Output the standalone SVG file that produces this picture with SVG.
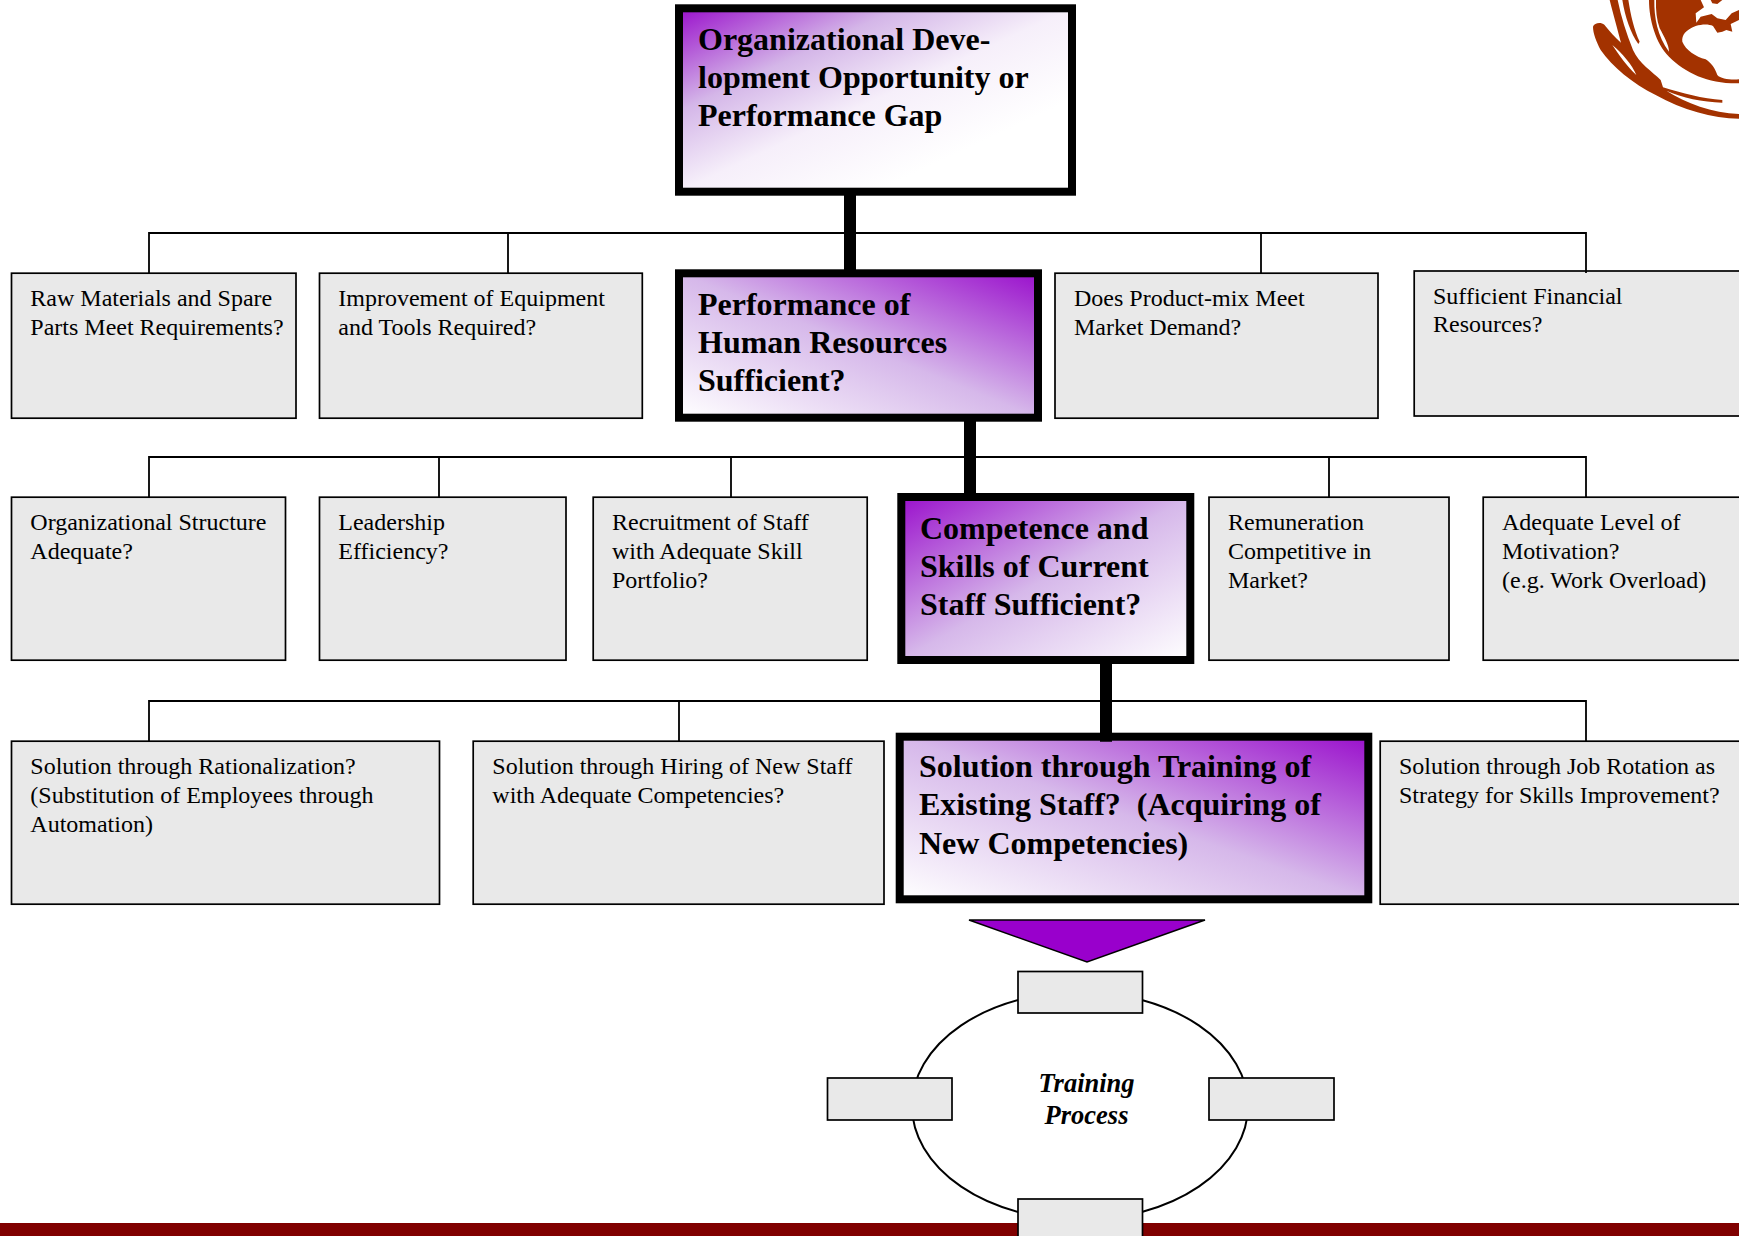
<svg xmlns="http://www.w3.org/2000/svg" width="1739" height="1236" viewBox="0 0 1739 1236">
<style>
text{font-family:"Liberation Serif","Times New Roman",serif;fill:#000}
.q{font-size:24px}
.b{font-size:32px;font-weight:bold;white-space:pre}
.t{font-size:26.5px;font-weight:bold;font-style:italic;text-anchor:middle}
.g{fill:#e9e9e9;stroke:#000;stroke-width:1.7}
.k{stroke:#000;stroke-width:8}
.h{stroke:#000;stroke-width:1.8;fill:none}
.e{stroke:#000;stroke-width:2;fill:none}
.v{stroke:#000;stroke-width:12;fill:none}
.logo{fill:#a33200}
</style>
<defs>
<linearGradient id="tl1" x1="0" y1="0" x2="1" y2="1"><stop offset="0" stop-color="#9a10cc"/><stop offset="0.13" stop-color="#b45cd8"/><stop offset="0.28" stop-color="#d4b6e8"/><stop offset="0.5" stop-color="#f6effa"/><stop offset="0.75" stop-color="#fff"/></linearGradient>
<linearGradient id="tl" x1="0" y1="0" x2="1" y2="1"><stop offset="0" stop-color="#9a10cc"/><stop offset="0.5" stop-color="#d6b8ea"/><stop offset="1" stop-color="#fff"/></linearGradient>
<linearGradient id="tr" x1="1" y1="0" x2="0" y2="1"><stop offset="0" stop-color="#9a10cc"/><stop offset="0.5" stop-color="#d6b8ea"/><stop offset="1" stop-color="#fff"/></linearGradient>
</defs>
<rect width="1739" height="1236" fill="#fff"/>
<g id="logo" class="logo" transform="translate(1589 0) scale(.33333)">
<path fill-rule="evenodd" d="M12,80 C16,68 36,66 46,74 C60,92 78,112 96,128 C86,90 72,40 62,0 L86,0 C96,50 112,100 132,150 C150,190 190,215 215,240 L222,262 C280,280 340,296 400,300 L400,308 C340,306 280,294 232,272 C290,310 370,338 450,342 L450,356 C370,355 280,330 200,285 C130,250 70,200 35,150 C22,125 12,100 12,80 Z M70,135 C90,165 115,200 142,225 C130,195 100,160 70,135 Z"/>
<path d="M100,0 L118,0 C125,45 135,90 152,125 L148,132 C125,100 108,50 100,0 Z"/>
<path fill-rule="evenodd" d="M180,0 C180,60 200,130 240,170 C290,220 360,252 450,250 L450,238 C425,240 395,237 385,225 C378,205 368,190 350,178 C320,170 290,150 280,125 C278,105 290,90 320,78 C340,72 360,72 372,78 L385,98 L400,95 L412,90 L430,95 L425,72 L450,60 L450,30 L428,40 L410,60 L385,55 L368,42 L335,50 L322,68 L320,40 L345,22 L335,0 Z M196,0 C195,50 205,110 240,155 C240,135 225,110 212,85 C203,60 200,30 201,0 Z"/>
<path d="M365,0 L400,0 L385,12 L370,10 Z"/>
</g>
<rect id="bar" x="0" y="1223" width="1739" height="13" fill="#800000"/>
<g id="n-top"><rect class="k" x="679" y="8.300" width="393" height="183.400" fill="url(#tl1)"/><text class="b"><tspan x="698" y="49.500">Organizational Deve-</tspan><tspan x="698" y="87.500">lopment Opportunity or</tspan><tspan x="698" y="126.300">Performance Gap</tspan></text></g>
<g id="n-raw"><rect class="g" x="11.500" y="273.200" width="284.500" height="145"/><text class="q"><tspan x="30.300" y="306">Raw Materials and Spare</tspan><tspan x="30.300" y="335">Parts Meet Requirements?</tspan></text></g>
<g id="n-equip"><rect class="g" x="319.500" y="273.200" width="322.800" height="145"/><text class="q"><tspan x="338.300" y="306">Improvement of Equipment</tspan><tspan x="338.300" y="335">and Tools Required?</tspan></text></g>
<g id="n-hr"><rect class="k" x="679" y="273.300" width="359" height="144.400" fill="url(#tr)"/><text class="b"><tspan x="698" y="314.500">Performance of</tspan><tspan x="698" y="352.500">Human Resources</tspan><tspan x="698" y="391">Sufficient?</tspan></text></g>
<g id="n-mix"><rect class="g" x="1055" y="273.200" width="323" height="145"/><text class="q"><tspan x="1074" y="306">Does Product-mix Meet</tspan><tspan x="1074" y="335">Market Demand?</tspan></text></g>
<g id="n-fin"><rect class="g" x="1414.200" y="271" width="330" height="145"/><text class="q"><tspan x="1433" y="304">Sufficient Financial</tspan><tspan x="1433" y="332">Resources?</tspan></text></g>
<g id="n-org"><rect class="g" x="11.500" y="497.200" width="274" height="163"/><text class="q"><tspan x="30.300" y="530">Organizational Structure</tspan><tspan x="30.300" y="559">Adequate?</tspan></text></g>
<g id="n-lead"><rect class="g" x="319.500" y="497.200" width="246.500" height="163"/><text class="q"><tspan x="338.300" y="530">Leadership</tspan><tspan x="338.300" y="559">Efficiency?</tspan></text></g>
<g id="n-rec"><rect class="g" x="593.200" y="497.200" width="274" height="163"/><text class="q"><tspan x="612" y="530">Recruitment of Staff</tspan><tspan x="612" y="559">with Adequate Skill</tspan><tspan x="612" y="588">Portfolio?</tspan></text></g>
<g id="n-comp"><rect class="k" x="901.300" y="497" width="289" height="163" fill="url(#tl)"/><text class="b"><tspan x="920" y="538.500">Competence and</tspan><tspan x="920" y="576.500">Skills of Current</tspan><tspan x="920" y="615">Staff Sufficient?</tspan></text></g>
<g id="n-rem"><rect class="g" x="1209" y="497.200" width="240" height="163"/><text class="q"><tspan x="1228" y="530">Remuneration</tspan><tspan x="1228" y="559">Competitive in</tspan><tspan x="1228" y="588">Market?</tspan></text></g>
<g id="n-mot"><rect class="g" x="1483.200" y="497.200" width="262" height="163"/><text class="q"><tspan x="1502" y="530">Adequate Level of</tspan><tspan x="1502" y="559">Motivation?</tspan><tspan x="1502" y="588">(e.g. Work Overload)</tspan></text></g>
<g id="n-rat"><rect class="g" x="11.500" y="741.200" width="428" height="163"/><text class="q"><tspan x="30.300" y="774">Solution through Rationalization?</tspan><tspan x="30.300" y="803">(Substitution of Employees through</tspan><tspan x="30.300" y="832">Automation)</tspan></text></g>
<g id="n-hire"><rect class="g" x="473.200" y="741.200" width="410.800" height="163"/><text class="q"><tspan x="492.300" y="774">Solution through Hiring of New Staff</tspan><tspan x="492.300" y="803">with Adequate Competencies?</tspan></text></g>
<g id="n-train"><rect class="k" x="899.700" y="736.700" width="468.600" height="162.600" fill="url(#tr)"/><text class="b"><tspan x="919" y="777">Solution through Training of</tspan><tspan x="919" y="815">Existing Staff?  (Acquiring of</tspan><tspan x="919" y="854">New Competencies)</tspan></text></g>
<g id="n-job"><rect class="g" x="1380.200" y="741.200" width="365" height="163"/><text class="q"><tspan x="1399" y="774">Solution through Job Rotation as</tspan><tspan x="1399" y="803">Strategy for Skills Improvement?</tspan></text></g>
<g id="n-arrow"><path d="M969 920H1205L1087 962Z" fill="#9900cc" stroke="#000" stroke-width="1.5"/></g>
<g id="n-process"><ellipse cx="1080" cy="1106" rx="168" ry="114" class="e"/><text class="t"><tspan x="1086.500" y="1092">Training</tspan><tspan x="1086.500" y="1123.500">Process</tspan></text></g>
<g id="s-top"><rect class="g" x="1018" y="971.500" width="124.500" height="41.500"/></g>
<g id="s-left"><rect class="g" x="827.500" y="1078" width="124.500" height="42"/></g>
<g id="s-right"><rect class="g" x="1209" y="1078" width="125" height="42"/></g>
<g id="s-bottom"><rect class="g" x="1018" y="1199" width="124.500" height="42"/></g>
<g id="connectors">
<path class="h" d="M149 273V233H1586V273M508 233V273M1261 233V273"/>
<path class="h" d="M149 497V457H1586V497M439 457V497M731 457V497M1329 457V497"/>
<path class="h" d="M149 741V701H1586V741M679 701V741"/>
<path class="v" d="M850 195V270M970 421V494M1106 664V741.700"/>
</g>
</svg>
